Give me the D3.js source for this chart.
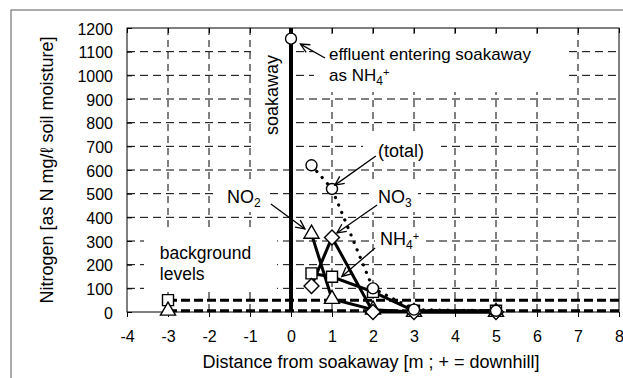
<!DOCTYPE html>
<html>
<head>
<meta charset="utf-8">
<script src="https://cdn.jsdelivr.net/npm/d3@7"></script>
<style>
  html, body { margin: 0; padding: 0; background: #fff; }
  svg { display: block; font-family: "Liberation Sans", Arial, sans-serif; }
</style>
</head>
<body>
<svg id="chart" width="623" height="378"></svg>
<script>
// ---- data ----
const distance = [0.5, 1, 2, 3, 5];
const totalN = [620, 520, 100, 10, 5];
const nh4N = [163, 149, 85, 5, 5];
const no3N = [110, 315, 0, 0, 0];
const no2N = [330, 55, 10, 0, 0];
const effluentX = [0];
const effluentN = [1155];
const backgroundX = [-3];
const backgroundNH4 = [50];
const backgroundNO2 = [5];
const xTickValues = [-4, -3, -2, -1, 0, 1, 2, 3, 4, 5, 6, 7, 8];
const yTickValues = [0, 100, 200, 300, 400, 500, 600, 700, 800, 900, 1000, 1100, 1200];

// ---- layout ----
const svg = d3.select("#chart");
const L = 127, R = 619, T = 28, B = 312;
const x = d3.scaleLinear().domain([-4, 8]).range([L, R]);
const y = d3.scaleLinear().domain([0, 1200]).range([B, T]);
const plain = d => String(d);

// outer frame
svg.append("rect").attr("x", 11).attr("y", 10).attr("width", 700).attr("height", 500)
  .attr("fill", "none").attr("stroke", "#7f7f7f").attr("stroke-width", 1.3);

// grid
const grid = svg.append("g");
grid.selectAll("line.h").data(yTickValues.filter(v => v > 0 && v < 1200)).join("line")
  .attr("x1", L).attr("x2", R).attr("y1", d => y(d)).attr("y2", d => y(d))
  .attr("stroke", "#000").attr("stroke-width", 1).attr("stroke-dasharray", "8,5");
grid.selectAll("line.v").data(xTickValues.filter(v => v > -4 && v < 8 && v !== 0)).join("line")
  .attr("x1", d => x(d)).attr("x2", d => x(d)).attr("y1", T).attr("y2", B)
  .attr("stroke", "#000").attr("stroke-width", 1).attr("stroke-dasharray", "7,5");

// white label boxes (hide grid like Excel text boxes)
const boxes = [
  [251, 40, 38, 118],   // soakaway
  [314, 34, 252, 58],   // effluent
  [363, 133, 78, 29],   // (total)
  [216, 182, 54, 30],   // NO2
  [372, 183, 46, 29],   // NO3
  [375, 228, 48, 24],   // NH4+
  [144, 227, 133, 63]   // background levels
];
svg.append("g").selectAll("rect").data(boxes).join("rect")
  .attr("x", d => d[0]).attr("y", d => d[1]).attr("width", d => d[2]).attr("height", d => d[3])
  .attr("fill", "#fff");

// plot border
svg.append("rect").attr("x", L).attr("y", T).attr("width", R - L).attr("height", B - T)
  .attr("fill", "none").attr("stroke", "#000").attr("stroke-width", 1);

// axes
const xAxisB = d3.axisBottom(x).tickValues(xTickValues).tickSize(5).tickFormat(plain);
const gxb = svg.append("g").attr("transform", `translate(0,${B})`).call(xAxisB);
gxb.select(".domain").remove();
gxb.selectAll("text").attr("font-size", 16).attr("fill", "#000").attr("dy", null).attr("y", 29.5)
  .style("font-family", "'Liberation Sans', Arial, sans-serif");
gxb.selectAll("line").attr("stroke", "#000");

const xAxisT = d3.axisTop(x).tickValues(xTickValues).tickSize(-5).tickFormat("");
const gxt = svg.append("g").attr("transform", `translate(0,${T})`).call(xAxisT);
gxt.select(".domain").remove();
gxt.selectAll("line").attr("stroke", "#000");

const yAxis = d3.axisLeft(y).tickValues(yTickValues).tickSize(-5).tickPadding(14).tickFormat(plain);
const gy = svg.append("g").attr("transform", `translate(${L},0)`).call(yAxis);
gy.select(".domain").remove();
gy.selectAll("line").attr("stroke", "#000");
gy.selectAll("text").attr("font-size", 16).attr("fill", "#000").attr("dy", "0.38em")
  .style("font-family", "'Liberation Sans', Arial, sans-serif");

// axis titles
svg.append("text").attr("x", 371).attr("y", 368).attr("text-anchor", "middle")
  .attr("font-size", 18).text("Distance from soakaway [m ; + = downhill]");
svg.append("text").attr("transform", "translate(53,170) rotate(-90)").attr("text-anchor", "middle")
  .attr("font-size", 18).text("Nitrogen [as N mg/ℓ soil moisture]");

// soakaway line
svg.append("line").attr("x1", x(0)).attr("x2", x(0)).attr("y1", y(0)).attr("y2", y(1200))
  .attr("stroke", "#000").attr("stroke-width", 4);
svg.append("text").attr("transform", "translate(278,95) rotate(-90)").attr("text-anchor", "middle")
  .attr("font-size", 18).text("soakaway");

// background lines
svg.append("line").attr("x1", x(backgroundX[0])).attr("x2", x(8))
  .attr("y1", y(backgroundNH4[0])).attr("y2", y(backgroundNH4[0]))
  .attr("stroke", "#000").attr("stroke-width", 3).attr("stroke-dasharray", "9,4");
svg.append("line").attr("x1", x(backgroundX[0])).attr("x2", x(8))
  .attr("y1", y(backgroundNO2[0])).attr("y2", y(backgroundNO2[0]))
  .attr("stroke", "#000").attr("stroke-width", 3).attr("stroke-dasharray", "9,4");

// series lines
const line = d3.line().x(d => x(d[0])).y(d => y(d[1]));
const zip = arr => distance.map((d, i) => [d, arr[i]]);
[nh4N, no3N, no2N].forEach(s => {
  svg.append("path").datum(zip(s)).attr("d", line).attr("fill", "none")
    .attr("stroke", "#000").attr("stroke-width", 3).attr("stroke-linejoin", "round");
});
svg.append("path").datum(zip(totalN)).attr("d", line).attr("fill", "none")
  .attr("stroke", "#000").attr("stroke-width", 3.2).attr("stroke-linecap", "round")
  .attr("stroke-dasharray", "0.1,8");

// markers
const mk = svg.append("g").attr("fill", "#fff").attr("stroke", "#000").attr("stroke-width", 1.4);
const sqSym = d3.symbol().type(d3.symbolSquare).size(121);
const diaSym = d3.symbol().type(d3.symbolSquare).size(112);
const triSym = d3.symbol().type(d3.symbolTriangle).size(98);
const sqData = zip(nh4N).concat([[backgroundX[0], backgroundNH4[0]]]);
const triData = zip(no2N).concat([[backgroundX[0], backgroundNO2[0]]]);
mk.selectAll("path.sq").data(sqData).join("path").attr("class", "sq").attr("d", sqSym)
  .attr("transform", d => `translate(${x(d[0])},${y(d[1])})`);
mk.selectAll("path.tri").data(triData).join("path").attr("class", "tri").attr("d", triSym)
  .attr("transform", d => `translate(${x(d[0])},${y(d[1])})`);
mk.selectAll("path.dia").data(zip(no3N)).join("path").attr("class", "dia").attr("d", diaSym)
  .attr("transform", d => `translate(${x(d[0])},${y(d[1])}) rotate(45)`);
mk.selectAll("circle").data(zip(totalN).concat(effluentX.map((d, i) => [d, effluentN[i]]))).join("circle")
  .attr("cx", d => x(d[0])).attr("cy", d => y(d[1])).attr("r", 5.5);

// annotation arrows (tail -> tip, data coordinates)
const arrows = [
  [0.83, 1073, 0.23, 1132],
  [2.07, 659, 1.07, 536],
  [-0.49, 456, 0.34, 351],
  [2.10, 452, 1.12, 334],
  [2.05, 270, 1.24, 150]
];
const ag = svg.append("g").attr("stroke", "#000").attr("stroke-width", 1.3).attr("fill", "none");
arrows.forEach(a => {
  const x1 = x(a[0]), y1 = y(a[1]), x2 = x(a[2]), y2 = y(a[3]);
  ag.append("line").attr("x1", x1).attr("y1", y1).attr("x2", x2).attr("y2", y2);
  const ang = Math.atan2(y1 - y2, x1 - x2), len = 10, sp = 0.45;
  ag.append("path").attr("d",
    `M${x2 + len * Math.cos(ang + sp)},${y2 + len * Math.sin(ang + sp)} L${x2},${y2} L${x2 + len * Math.cos(ang - sp)},${y2 + len * Math.sin(ang - sp)}`);
});

// annotation text
function label(px, py, parts, fs) {
  const t = svg.append("text").attr("x", px).attr("y", py).attr("font-size", fs || 18);
  parts.forEach(p => {
    const s = t.append("tspan").text(p[0]);
    if (p[1] === "sub") s.attr("font-size", 12).attr("dy", 4);
    if (p[1] === "supafter") s.attr("font-size", 11).attr("dy", -9);
  });
  return t;
}
label(x(0.927), y(1064), [["effluent entering soakaway"]], 17);
label(x(0.927), y(975), [["as NH"], ["4", "sub"], ["+", "supafter"]], 17);
label(x(2.12), y(655), [["(total)"]]);
label(x(-1.56), y(460), [["NO"], ["2", "sub"]]);
label(x(2.12), y(460), [["NO"], ["3", "sub"]]);
label(x(2.17), y(283), [["NH"], ["4", "sub"], ["+", "supafter"]]);
label(x(-3.2), y(222), [["background"]], 17.5);
label(x(-3.2), y(135), [["levels"]], 17.5);
</script>
</body>
</html>
